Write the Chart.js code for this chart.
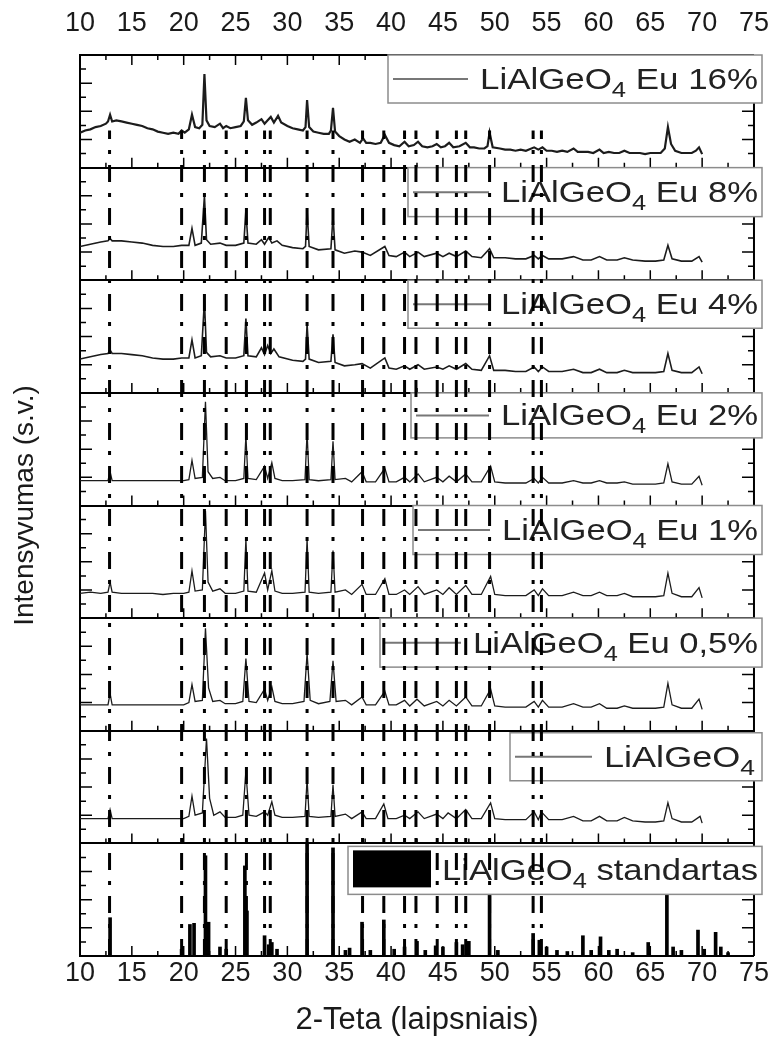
<!DOCTYPE html>
<html lang="lt">
<head>
<meta charset="UTF-8" />
<title>LiAlGeO4 XRD</title>
<script src="https://cdn.jsdelivr.net/npm/chart.js"></script>
<style>
    html, body { margin: 0; padding: 0; background: #fff; }
    #wrap { width: 784px; height: 1039px; }
</style>
</head>
<body>
<div id="wrap"><canvas id="xrd" width="784" height="1039"></canvas></div>
<script>
// 2-Teta (deg) vs intensity, in % of one panel's height
const eu16 = [[10,31],[10.5,33],[11,34],[11.5,36],[12,37],[12.5,39],[12.7,41],[12.9,47],[13.1,41],[13.5,42],[14,41],[14.5,40],[15,39],[15.5,38],[16,37],[16.5,35],[17,34],[17.5,32],[18,31],[18.5,30],[19,31],[19.5,30],[19.8,33],[20.1,31],[20.5,34],[20.8,47],[21.1,36],[21.5,35],[21.8,38],[22.0,83],[22.2,42],[22.5,37],[23,36],[23.5,39],[23.8,35],[24.1,37],[24.5,35],[25,36],[25.5,37],[25.8,41],[26.0,62],[26.2,42],[26.6,38],[27,40],[27.5,43],[27.8,39],[28.1,42],[28.4,45],[28.7,40],[29.1,46],[29.4,40],[30,37],[30.5,35],[31,34],[31.5,33],[31.75,36],[31.9,60],[32.1,36],[32.5,32],[33,31],[33.5,30],[34,30],[34.2,33],[34.4,53],[34.6,32],[35,28],[35.5,25],[36,23],[36.5,25],[37,22],[37.3,26],[37.6,22],[38,22],[38.5,21],[39,22],[39.4,29],[39.8,22],[40.3,20],[40.8,19],[41.3,23],[41.7,19],[42.2,20],[42.6,23],[43,19],[43.5,18],[44,19],[44.4,21],[44.8,18],[45.2,19],[45.6,22],[46,18],[46.6,19],[47.2,22],[47.6,18],[48,18],[48.5,17],[49,17],[49.3,19],[49.5,31],[49.8,18],[50.5,17],[51,16],[51.5,16],[52,15],[52.5,16],[53,15],[53.8,18],[54.2,16],[54.6,18],[55,15],[55.5,15],[56,14],[56.5,15],[57,14],[57.6,17],[58,14],[58.5,14],[59,14],[59.5,13],[60.1,16],[60.5,13],[61,14],[61.5,13],[62,13],[62.5,15],[63,13],[63.5,13],[64,13],[64.5,12],[65,13],[65.5,13],[66,13],[66.4,17],[66.7,36],[67,21],[67.4,15],[68,13],[68.5,13],[69,13],[69.4,15],[69.7,18],[70,12]];

const eu8 = [[10,30],[11,32],[12,34],[12.7,35],[12.9,37],[13.1,35],[14,35],[15,34],[16,33],[17,31],[18,30],[19,30],[19.8,31],[20.5,31],[20.8,46],[21.1,31],[21.7,33],[22.0,75],[22.2,36],[22.6,32],[23.5,33],[24.1,31],[25,31],[25.8,33],[26.0,62],[26.2,33],[27,32],[27.5,36],[27.8,32],[28.2,38],[28.5,33],[29,35],[29.5,31],[30.5,29],[31.5,28],[31.75,30],[31.9,62],[32.1,30],[33,27],[34.2,28],[34.4,57],[34.6,27],[35.5,24],[36.5,26],[37.2,25],[38,22],[39.4,30],[39.8,22],[40.5,21],[41.3,25],[41.8,21],[42.6,25],[43.2,21],[44.4,24],[45,21],[45.6,24],[46.3,21],[47.2,26],[47.8,21],[48.7,20],[49.5,28],[49.9,20],[51,20],[52,19],[53,19],[53.8,22],[54.2,19],[54.6,22],[55.2,19],[56.5,19],[57.6,21],[58.5,18],[59.3,18],[60.1,21],[60.8,18],[61.8,18],[62.5,20],[63.3,18],[64.5,17],[65.5,17],[66.3,18],[66.7,31],[67.1,19],[68,17],[69,17],[69.7,21],[70,16]];

const eu4 = [[10,30],[11,32],[12,34],[12.7,35],[12.9,38],[13.1,35],[14,35],[15,34],[16,33],[17,31],[18,30],[19,30],[19.8,31],[20.5,31],[20.8,47],[21.1,31],[21.7,33],[22.0,82],[22.2,36],[22.6,32],[23.5,33],[24.1,31],[25,31],[25.8,33],[26.0,66],[26.2,33],[27,32],[27.5,40],[27.8,34],[28.1,42],[28.4,35],[28.7,39],[29.2,32],[30.5,29],[31.5,28],[31.75,30],[31.9,61],[32.1,30],[33,27],[34.2,28],[34.4,52],[34.6,27],[35.5,24],[36.5,25],[37.2,26],[38,22],[39.4,31],[39.8,22],[40.5,21],[41.3,24],[41.8,21],[42.6,25],[43.2,21],[44.4,23],[45,21],[45.6,24],[46.3,21],[47.2,26],[47.8,21],[48.7,20],[49.5,33],[49.9,20],[51,20],[52,19],[53,19],[53.8,23],[54.2,19],[54.6,23],[55.2,19],[56.5,19],[57.6,21],[58.5,18],[59.3,18],[60.1,21],[60.8,18],[61.8,18],[62.5,20],[63.3,18],[64.5,18],[65.5,18],[66.3,19],[66.7,35],[67.1,20],[68,18],[69,18],[69.7,23],[70,17]];

const eu2 = [[10,22],[11,22],[12,22],[12.7,22],[12.9,30],[13.1,22],[14,22],[15,22],[16,22],[17,22],[18,22],[19,22],[20,22],[20.5,23],[20.8,40],[21.1,24],[21.8,25],[22.1,92],[22.35,30],[22.8,24],[23.5,25],[24,22],[25,22],[25.8,24],[26.0,62],[26.2,24],[27,23],[27.8,35],[28.1,24],[28.5,38],[28.8,24],[29.5,22],[30.5,22],[31.7,23],[31.9,65],[32.1,23],[33,22],[34.2,23],[34.4,57],[34.6,23],[35.6,24],[36.2,21],[37.2,30],[37.6,21],[38.5,21],[39.4,33],[39.8,21],[40.5,21],[41.3,25],[41.8,21],[42.6,28],[43.2,21],[44.4,25],[45,21],[45.6,26],[46.3,21],[47.2,28],[47.8,21],[48.7,21],[49.6,35],[50,21],[51,20],[52,20],[53,20],[53.8,24],[54.2,20],[54.6,25],[55.2,20],[56.5,20],[57.6,22],[58.5,20],[59.3,20],[60.1,22],[60.8,20],[61.8,20],[62.5,21],[63.3,19],[64.5,19],[65.5,19],[66.3,20],[66.7,37],[67.1,21],[68,19],[69,19],[69.7,26],[70,18]];

const eu1 = [[10,22],[11,23],[12,22],[12.7,23],[12.9,32],[13.1,23],[14,22],[15,22],[16,22],[17,22],[18,21],[19,22],[20,22],[20.5,23],[20.8,42],[21.1,24],[21.8,25],[22.1,95],[22.35,32],[22.8,24],[23.5,26],[24,22],[25,22],[25.8,24],[26.0,70],[26.2,24],[27,23],[27.8,40],[28.1,25],[28.5,42],[28.8,24],[29.5,22],[30.5,22],[31.7,23],[31.9,70],[32.1,23],[33,22],[34.2,23],[34.4,60],[34.6,23],[35.6,25],[36.2,21],[37.2,30],[37.6,21],[38.5,21],[39.4,35],[39.8,21],[40.5,21],[41.3,25],[41.8,21],[42.6,28],[43.2,21],[44.4,25],[45,21],[45.6,27],[46.3,21],[47.2,29],[47.8,21],[48.7,21],[49.6,37],[50,21],[51,20],[52,20],[53,20],[53.8,25],[54.2,20],[54.6,26],[55.2,20],[56.5,20],[57.6,23],[58.5,20],[59.3,20],[60.1,23],[60.8,20],[61.8,20],[62.5,22],[63.3,19],[64.5,19],[65.5,19],[66.3,20],[66.7,40],[67.1,22],[68,19],[69,19],[69.7,27],[70,18]];

const eu05 = [[10,23],[11,23],[12,23],[12.7,23],[12.9,33],[13.1,23],[14,23],[15,23],[16,23],[17,23],[18,23],[19,23],[20,23],[20.5,25],[20.8,41],[21.1,26],[21.8,27],[22.1,91],[22.4,38],[22.8,26],[23.5,27],[24,24],[25,24],[25.7,26],[26.0,64],[26.3,26],[27,25],[27.8,37],[28.1,27],[28.5,39],[28.8,26],[29.5,24],[30.5,24],[31.6,26],[31.9,69],[32.2,27],[33,24],[34.1,26],[34.4,62],[34.7,26],[35.6,27],[36.2,23],[37.2,30],[37.6,23],[38.5,23],[39.4,35],[39.8,23],[40.5,23],[41.3,27],[41.8,22],[42.5,28],[43.2,22],[44.4,26],[45,22],[45.6,27],[46.3,22],[47.2,30],[47.8,22],[48.7,22],[49.6,37],[50,22],[51,21],[52,21],[53,21],[53.8,26],[54.2,21],[54.6,27],[55.2,21],[56.5,21],[57.6,24],[58.5,21],[59.3,21],[60.1,24],[60.8,20],[61.8,20],[62.5,22],[63.3,20],[64.5,20],[65.5,20],[66.3,21],[66.7,42],[67.1,23],[68,20],[69,20],[69.7,28],[70,19]];

const pure = [[10,22],[11,22],[12,22],[12.7,22],[12.9,30],[13.1,22],[14,22],[15,22],[16,22],[17,22],[18,22],[19,22],[20,22],[20.5,24],[20.8,42],[21.1,25],[21.8,27],[22.2,93],[22.5,40],[22.9,25],[23.5,28],[24,23],[25,23],[25.7,25],[26.0,64],[26.3,25],[27,24],[27.8,28],[28.1,25],[28.5,37],[28.8,25],[29.5,23],[30.5,23],[31.7,24],[31.9,57],[32.1,24],[33,23],[34.2,24],[34.4,52],[34.6,24],[35.6,26],[36.2,22],[37.2,28],[37.6,22],[38.5,22],[39.3,35],[39.7,22],[40.5,22],[41.3,25],[41.8,22],[42.6,28],[43.2,22],[44.4,26],[45,22],[45.5,27],[46.3,22],[47.2,30],[47.8,22],[48.7,22],[49.6,36],[50,22],[51,21],[52,21],[53,21],[53.8,28],[54.2,21],[54.5,28],[55.2,21],[56.5,21],[57.6,24],[58.5,20],[59.3,20],[60.1,24],[60.8,20],[61.8,20],[62.5,23],[63.3,20],[64.5,19],[65.5,19],[66.3,20],[66.7,36],[67.1,22],[68,19],[69,19],[69.8,24],[70,18]];

// standard pattern: position, relative height
const standardPeaks = [[12.9,34],[19.8,6],[20.6,28],[21.0,29],[22.1,89],[22.4,30],[23.5,8],[24.1,6],[25.9,80],[26.1,40],[27.8,18],[28.2,10],[28.5,12],[29.0,6],[31.9,100],[34.4,96],[35.6,5],[36.0,7],[37.2,30],[38.0,5],[39.3,32],[40.3,6],[41.3,8],[42.5,13],[43.3,5],[44.3,9],[45.0,8],[46.3,12],[46.9,10],[47.5,13],[49.5,85],[50.3,5],[53.7,20],[54.3,14],[55.0,8],[56.0,5],[57.0,4],[58.5,18],[59.3,5],[60.2,17],[61.0,5],[61.8,6],[63.3,3],[64.8,12],[66.6,56],[67.2,8],[68.0,5],[69.6,23],[70.2,6],[71.3,21],[71.8,8],[72.5,3]];

// dash-dot guide lines at the standard's main reflections
const refLines = [12.85, 19.8, 22.0, 24.1, 26.05, 27.8, 28.35, 31.9, 34.4, 37.25, 39.3, 41.3, 42.4, 44.45, 46.3, 47.2, 49.5, 53.7, 54.5];
const refTop = 7.33;

const xTickLabels = [10, 15, 20, 25, 30, 35, 40, 45, 50, 55, 60, 65, 70, 75];
const seriesNames = ["Eu 16%", "Eu 8%", "Eu 4%", "Eu 2%", "Eu 1%", "Eu 0,5%", "", "standartas"];
const patterns = [eu16, eu8, eu4, eu2, eu1, eu05, pure];

const FONT = "'Liberation Sans', Arial, sans-serif";

// legend boxes: one per panel (top to bottom)
const legendLayout = [
    { x0: 388, x1: 762, dy: 0, h: 48, tx: 480, tEnd: 758 },
    { x0: 408, x1: 762, dy: 0, h: 49, tx: 501, tEnd: 758 },
    { x0: 408, x1: 762, dy: 0, h: 48, tx: 501, tEnd: 758 },
    { x0: 411, x1: 762, dy: 0, h: 45, tx: 501, tEnd: 758 },
    { x0: 413, x1: 762, dy: 0, h: 49, tx: 502, tEnd: 758 },
    { x0: 380, x1: 762, dy: 0, h: 49, tx: 473, tEnd: 758 },
    { x0: 510, x1: 762, dy: 2, h: 48, tx: 604, tEnd: 755 },
    { x0: 348, x1: 762, dy: 3, h: 48, tx: 442, tEnd: 758, solid: true },
];

const datasets = [];
patterns.forEach((pts, i) => {
    const base = 7 - i;
    datasets.push({
        type: "line",
        data: pts.map(([x, v]) => ({ x: x, y: base + v / 100 })),
        borderColor: "#1c1c1c",
        borderWidth: i === 0 ? 2.2 : i < 3 ? 1.6 : 1.3,
        pointRadius: 0,
        tension: 0,
        fill: false,
        order: 3,
    });
});
datasets.push({
    type: "bar",
    data: standardPeaks.map(([x, h]) => ({ x: x, y: h / 100 })),
    backgroundColor: "#000",
    barThickness: 3,
    order: 3,
});
refLines.forEach((p) => {
    datasets.push({
        type: "line",
        isRef: true,
        data: [{ x: p, y: 0 }, { x: p, y: refTop }],
        borderColor: "#000",
        borderWidth: 3,
        borderDash: [17, 11, 4, 11],
        borderCapStyle: "butt",
        pointRadius: 0,
        fill: false,
        order: 1,
    });
});

function drawLegends(chart) {
    const ctx = chart.ctx;
    const y = chart.scales.y;
    ctx.save();
    legendLayout.forEach((L, i) => {
        const top = y.getPixelForValue(8 - i) + L.dy;
        ctx.fillStyle = "#fff";
        ctx.fillRect(L.x0, top, L.x1 - L.x0, L.h);
        ctx.strokeStyle = "#8c8c8c";
        ctx.lineWidth = 1.5;
        ctx.strokeRect(L.x0, top, L.x1 - L.x0, L.h);
        const cy = top + L.h / 2;
        if (L.solid) {
            ctx.fillStyle = "#000";
            ctx.fillRect(L.x0 + 5, top + 4, L.tx - L.x0 - 16, L.h - 11);
        } else {
            ctx.strokeStyle = "#777";
            ctx.lineWidth = 2;
            ctx.beginPath();
            ctx.moveTo(L.x0 + 5, cy);
            ctx.lineTo(L.tx - 12, cy);
            ctx.stroke();
        }
        const rest = seriesNames[i] ? " " + seriesNames[i] : "";
        const parts = [["LiAlGeO", 30, 0], ["4", 22, 8], [rest, 30, 0]];
        let total = 0;
        parts.forEach((p) => {
            ctx.font = p[1] + "px " + FONT;
            p.push(ctx.measureText(p[0]).width);
            total += p[3];
        });
        const sx = (L.tEnd - L.tx) / total;
        ctx.save();
        ctx.translate(L.tx, cy + 10);
        ctx.scale(sx, 1);
        ctx.fillStyle = "#222";
        ctx.textBaseline = "alphabetic";
        let xx = 0;
        parts.forEach((p) => {
            ctx.font = p[1] + "px " + FONT;
            ctx.fillText(p[0], xx, p[2]);
            xx += p[3];
        });
        ctx.restore();
    });
    ctx.restore();
}

let legendsDone = false;
const panelDecor = {
    id: "panelDecor",
    beforeDraw(chart) {
        const ctx = chart.ctx;
        ctx.save();
        ctx.fillStyle = "#fff";
        ctx.fillRect(0, 0, chart.width, chart.height);
        ctx.restore();
        legendsDone = false;
    },
    beforeDatasetsDraw(chart) {
        const { ctx, chartArea: a, scales } = chart;
        const x = scales.x, y = scales.y;
        ctx.save();
        ctx.strokeStyle = "#000";
        ctx.lineWidth = 1.5;
        ctx.beginPath();
        for (let p = 0; p < 8; p++) {
            const yb = y.getPixelForValue(p);
            for (let v = 12.5; v < 75; v += 2.5) {
                const px = x.getPixelForValue(v);
                const len = v % 5 === 0 ? 10 : 5;
                ctx.moveTo(px, yb);
                ctx.lineTo(px, yb - len);
            }
            for (let j = 1; j < 8; j++) {
                const py = y.getPixelForValue(p + j / 8);
                const len = j % 2 === 0 ? 12 : 6;
                ctx.moveTo(a.left, py);
                ctx.lineTo(a.left + len, py);
                ctx.moveTo(a.right, py);
                ctx.lineTo(a.right - len, py);
            }
        }
        for (let v = 12.5; v < 75; v += 2.5) {
            const px = x.getPixelForValue(v);
            ctx.moveTo(px, a.top);
            ctx.lineTo(px, a.top + (v % 5 === 0 ? 10 : 5));
        }
        ctx.stroke();
        ctx.lineWidth = 2;
        ctx.beginPath();
        ctx.moveTo(a.right, a.top);
        ctx.lineTo(a.right, a.bottom);
        ctx.stroke();
        ctx.restore();
    },
    beforeDatasetDraw(chart, args) {
        const ds = chart.data.datasets[args.index];
        if (ds.isRef && !legendsDone) {
            drawLegends(chart);
            legendsDone = true;
        }
    },
};

const tickFont = { family: FONT, size: 27 };

new Chart(document.getElementById("xrd"), {
    type: "line",
    data: { datasets: datasets },
    plugins: [panelDecor],
    options: {
        responsive: false,
        animation: false,
        layout: { padding: { left: 0, right: 19, top: 0, bottom: 0 } },
        plugins: { legend: { display: false }, tooltip: { enabled: false } },
        scales: {
            x: {
                type: "linear",
                position: "bottom",
                min: 10,
                max: 75,
                offset: false,
                afterBuildTicks: (s) => { s.ticks = xTickLabels.map((v) => ({ value: v })); },
                ticks: { font: tickFont, color: "#1a1a1a", padding: 1, maxRotation: 0, autoSkip: false },
                grid: { display: false, drawTicks: false, offset: false },
                border: { display: true, color: "#000", width: 2 },
                title: {
                    display: true,
                    text: "2-Teta (laipsniais)",
                    color: "#1a1a1a",
                    font: { family: FONT, size: 31 },
                    padding: { top: 0, bottom: 0 },
                },
                afterFit: (s) => { s.height = 83; },
            },
            xTop: {
                type: "linear",
                position: "top",
                min: 10,
                max: 75,
                offset: false,
                afterBuildTicks: (s) => { s.ticks = xTickLabels.map((v) => ({ value: v })); },
                ticks: { font: tickFont, color: "#1a1a1a", padding: 15, maxRotation: 0, autoSkip: false },
                grid: { display: false, drawTicks: false },
                border: { display: true, color: "#000", width: 2 },
                afterFit: (s) => { s.height = 55; },
            },
            y: {
                type: "linear",
                min: 0,
                max: 8,
                ticks: { display: false, stepSize: 1 },
                grid: { color: "#000", lineWidth: 2, drawTicks: false },
                border: { display: true, color: "#000", width: 2 },
                title: {
                    display: true,
                    text: "Intensyvumas (s.v.)",
                    color: "#1a1a1a",
                    font: { family: FONT, size: 28 },
                    padding: { top: 8, bottom: 0 },
                },
                afterFit: (s) => { s.width = 80; },
            },
        },
    },
});
</script>
</body>
</html>
